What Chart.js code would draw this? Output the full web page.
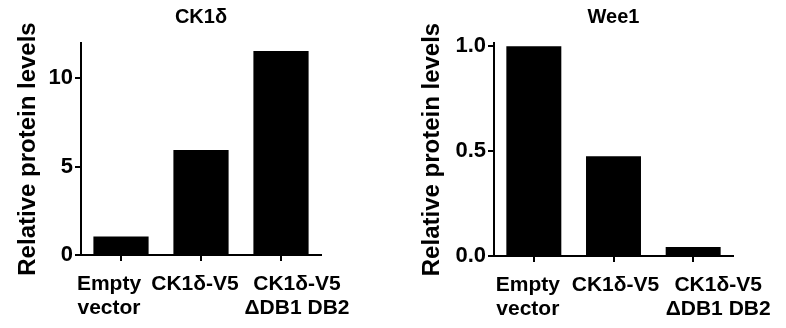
<!DOCTYPE html>
<html>
<head>
<meta charset="utf-8">
<script src="https://cdn.jsdelivr.net/npm/chart.js@4.4.1/dist/chart.umd.min.js"></script>
<style>
  html, body { margin: 0; padding: 0; background: #fff; overflow: hidden; }
  .panel { position: absolute; top: 0; width: 393px; height: 328px; }
</style>
</head>
<body>
<div class="panel" style="left:0"><canvas id="ck1Chart"></canvas></div>
<div class="panel" style="left:393px"><canvas id="wee1Chart"></canvas></div>
<script>
// data
const categories = [['Empty', 'vector'], 'CK1δ-V5', ['CK1δ-V5', 'ΔDB1 DB2']];
const ck1Values = [1.05, 5.95, 11.55];
const wee1Values = [1.0, 0.475, 0.043];
const ck1Ticks = [0, 5, 10];
const wee1Ticks = [0, 0.5, 1.0];

const fontFamily = '"Liberation Sans", Arial, Helvetica, sans-serif';

// title drawn over the middle of the plot area
const panelTitle = {
    id: 'panelTitle',
    afterDraw(chart, args, opts) {
        const ctx = chart.ctx;
        const area = chart.chartArea;
        ctx.save();
        ctx.font = 'bold 20px ' + fontFamily;
        ctx.fillStyle = '#000';
        ctx.textAlign = 'center';
        ctx.textBaseline = 'middle';
        ctx.fillText(opts.text, (area.left + area.right) / 2, 17);
        ctx.restore();
    }
};

// the category labels in the figure are spread a bit wider than the bars
const labelShift = {
    id: 'labelShift',
    beforeDraw(chart, args, opts) {
        const scale = chart.scales.x;
        const items = scale.getLabelItems(chart.chartArea);
        items.forEach((item, i) => {
            item.options.translation[0] += (opts.shift[i] || 0);
        });
    }
};

function makePanel(id, title, values, tickList, yMax, decimals, yWidth, titlePad, padRight, bottomH, shift) {
    let ctx = document.getElementById(id).getContext('2d');
    return new Chart(ctx, {
        type: 'bar',
        data: {
            labels: categories,
            datasets: [{
                data: values,
                backgroundColor: '#000',
                borderWidth: 0,
                barPercentage: 1,
                categoryPercentage: 0.69
            }]
        },
        options: {
            responsive: true,
            maintainAspectRatio: false,
            animation: false,
            layout: { padding: { top: 43, right: padRight, bottom: 0, left: 0 } },
            plugins: {
                legend: { display: false },
                tooltip: { enabled: false },
                panelTitle: { text: title },
                labelShift: { shift: shift }
            },
            scales: {
                x: {
                    grid: { display: true, drawOnChartArea: false, offset: false, color: '#000', lineWidth: 2, tickLength: 6 },
                    border: { display: true, color: '#000', width: 2 },
                    ticks: {
                        color: '#000',
                        autoSkip: false,
                        maxRotation: 0,
                        padding: 11,
                        font: { family: fontFamily, size: 21, weight: 'bold', lineHeight: 1.15 }
                    },
                    afterFit(scale) { scale.height = bottomH; }
                },
                y: {
                    min: 0,
                    max: yMax,
                    grid: { drawOnChartArea: false, color: '#000', lineWidth: 2, tickLength: 6 },
                    border: { display: true, color: '#000', width: 2 },
                    afterBuildTicks(scale) { scale.ticks = tickList.map(v => ({ value: v })); },
                    ticks: {
                        color: '#000',
                        padding: 2,
                        callback: v => Number(v).toFixed(decimals),
                        font: { family: fontFamily, size: 22, weight: 'bold' }
                    },
                    title: {
                        display: true,
                        text: 'Relative protein levels',
                        color: '#000',
                        padding: { top: titlePad, bottom: 0 },
                        font: { family: fontFamily, size: 24, weight: 'bold' }
                    },
                    afterFit(scale) { scale.width = yWidth; }
                }
            }
        },
        plugins: [panelTitle, labelShift]
    });
}

let chart1 = makePanel('ck1Chart', 'CK1δ', ck1Values, ck1Ticks, 12, 0, 81, 14, 72, 73, [-12, -6, 16]);
let chart2 = makePanel('wee1Chart', 'Wee1', wee1Values, wee1Ticks, 1.015, 1, 101, 25, 53, 72, [-6, 2, 25]);
</script>
</body>
</html>
